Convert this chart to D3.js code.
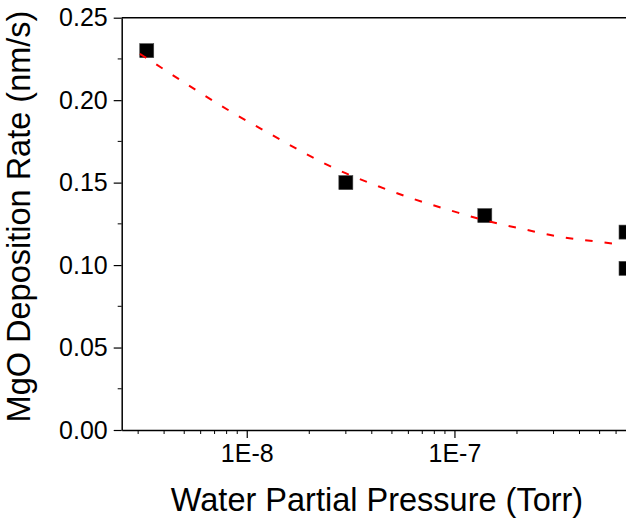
<!DOCTYPE html>
<html>
<head>
<meta charset="utf-8">
<script src="https://cdn.jsdelivr.net/npm/d3@7"></script>
<style>
  body { margin: 0; background: #fff; }
  svg { display: block; font-family: "Liberation Sans", Arial, sans-serif; }
</style>
</head>
<body>
<div id="chart"></div>
<script>
// measured points
const pressure = [3.3e-9, 3.0e-8, 1.4e-7, 6.7e-7, 6.7e-7];
const rate = [0.230, 0.150, 0.130, 0.120, 0.098];

// dashed fit curve
const fitPressure = [3.06e-9, 3.9e-9, 5.81e-9, 8.66e-9, 1.3e-8, 1.93e-8, 2.89e-8, 4.3e-8,
  6.41e-8, 9.6e-8, 1.43e-7, 2.15e-7, 3.21e-7, 4.81e-7, 6.2e-7];
const fitRate = [0.2281, 0.2195, 0.2054, 0.1920, 0.1795, 0.1674, 0.1565, 0.1478,
  0.1399, 0.1331, 0.1268, 0.1218, 0.1171, 0.1143, 0.1125];

const xTicks = [1e-8, 1e-7];
const xTickLabels = ["1E-8", "1E-7"];
const yTicks = [0, 0.05, 0.10, 0.15, 0.20, 0.25];
const yTickLabels = ["0.00", "0.05", "0.10", "0.15", "0.20", "0.25"];

const width = 626;
const height = 521;
const plotLeft = 121.7;
const plotTop = 17.7;
const plotBottom = 430;
const decade = 207.7;

const svg = d3.select("#chart")
  .append("svg")
  .attr("width", width)
  .attr("height", height);

const xScale = d3.scaleLog()
  .domain([2.5e-9, 1e-6])
  .range([plotLeft, plotLeft + Math.log10(1e-6 / 2.5e-9) * decade]);

const yScale = d3.scaleLinear()
  .domain([0, 0.25])
  .range([plotBottom, plotTop]);

// minor x ticks
const minorX = [];
[1e-9, 1e-8, 1e-7].forEach((base) => {
  for (let k = 2; k <= 9; k++) {
    const v = base * k;
    if (v >= 2.5e-9 && v < 1e-6) minorX.push(v);
  }
});

const xAxis = d3.axisBottom(xScale)
  .tickValues(xTicks)
  .tickFormat((d, i) => xTickLabels[i])
  .tickSizeInner(8)
  .tickSizeOuter(0)
  .tickPadding(6);

const gx = svg.append("g")
  .attr("id", "x-axis")
  .attr("transform", "translate(0," + plotBottom + ")")
  .call(xAxis);

gx.selectAll(".minor")
  .data(minorX)
  .enter()
  .append("line")
  .attr("class", "minor")
  .attr("x1", (d) => xScale(d))
  .attr("x2", (d) => xScale(d))
  .attr("y1", 0)
  .attr("y2", 4)
  .attr("stroke", "#000");

const yAxis = d3.axisLeft(yScale)
  .tickValues(yTicks)
  .tickFormat((d, i) => yTickLabels[i])
  .tickSizeInner(8)
  .tickSizeOuter(0)
  .tickPadding(6);

const gy = svg.append("g")
  .attr("id", "y-axis")
  .attr("transform", "translate(" + plotLeft + ",0)")
  .call(yAxis);

gy.selectAll(".minor")
  .data(d3.range(0.025, 0.25, 0.05))
  .enter()
  .append("line")
  .attr("class", "minor")
  .attr("x1", 0)
  .attr("x2", -4)
  .attr("y1", (d) => yScale(d))
  .attr("y2", (d) => yScale(d))
  .attr("stroke", "#000");

svg.selectAll(".domain").attr("stroke-width", 1.5);
svg.selectAll(".tick line").attr("stroke-width", 1.2);
svg.selectAll(".tick text")
  .attr("font-size", 25)
  .attr("fill", "#000")
  .attr("font-family", "Liberation Sans, Arial, sans-serif");

// top frame
svg.append("line")
  .attr("x1", plotLeft)
  .attr("x2", xScale.range()[1])
  .attr("y1", plotTop)
  .attr("y2", plotTop)
  .attr("stroke", "#000")
  .attr("stroke-width", 1.5);

// data squares
svg.selectAll(".pt")
  .data(pressure.map((p, i) => [p, rate[i]]))
  .enter()
  .append("rect")
  .attr("class", "pt")
  .attr("x", (d) => xScale(d[0]) - 7)
  .attr("y", (d) => yScale(d[1]) - 7)
  .attr("width", 14)
  .attr("height", 14)
  .attr("fill", "#000")
  .attr("stroke", "#444")
  .attr("stroke-width", 0.6);

// fit line on top
const line = d3.line()
  .x((d) => xScale(d[0]))
  .y((d) => yScale(d[1]))
  .curve(d3.curveMonotoneX);

svg.append("path")
  .datum(fitPressure.map((p, i) => [p, fitRate[i]]))
  .attr("d", line)
  .attr("fill", "none")
  .attr("stroke", "#ff0000")
  .attr("stroke-width", 2)
  .attr("stroke-dasharray", "7.5,12");

// axis titles
svg.append("text")
  .attr("x", 377)
  .attr("y", 511)
  .attr("text-anchor", "middle")
  .attr("font-size", 32.5)
  .text("Water Partial Pressure (Torr)");

svg.append("text")
  .attr("transform", "translate(30,216.5) rotate(-90)")
  .attr("text-anchor", "middle")
  .attr("font-size", 32.5)
  .text("MgO Deposition Rate (nm/s)");
</script>
</body>
</html>
